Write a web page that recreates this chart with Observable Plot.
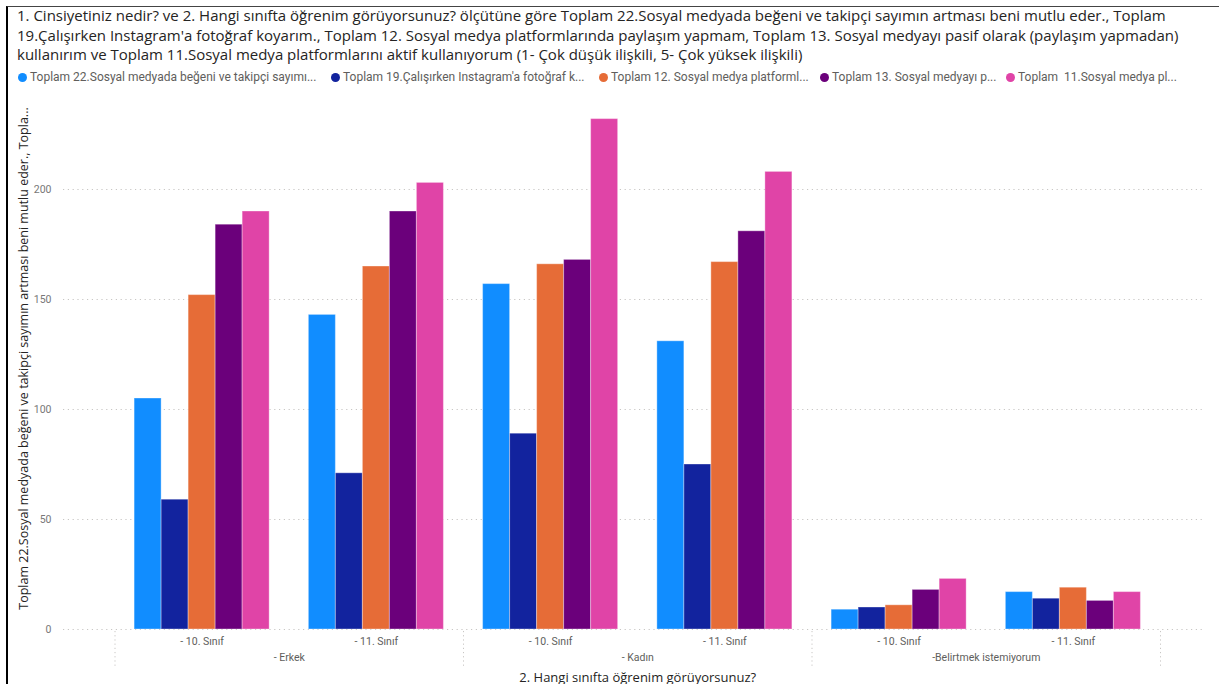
<!DOCTYPE html>
<html><head><meta charset="utf-8">
<script src="https://cdn.jsdelivr.net/npm/d3@7"></script>
<script src="https://cdn.jsdelivr.net/npm/@observablehq/plot@0.6"></script>
<style>
body{margin:0;background:#fff;width:1219px;height:684px;overflow:hidden;position:relative;font-family:"Open Sans",sans-serif}
#frame{position:absolute;left:6px;top:6px;right:-5px;bottom:-5px;border-left:2.5px solid #000;border-top:1.5px solid #444;pointer-events:none}
#title{position:absolute;left:17px;top:6px;font-size:13.5px;line-height:19.6px;color:#252423;white-space:nowrap}
#title div{display:block}
#legend{position:absolute;left:0;top:70px;height:16px;width:1219px;font-size:12px;color:#605E5C;font-family:Roboto,sans-serif}
.item{position:absolute;top:0;white-space:pre;overflow:hidden}
.dot{display:inline-block;width:9px;height:9px;border-radius:50%;margin-right:3px;vertical-align:-1px}
#chart{position:absolute;left:0;top:90px}
</style></head><body>
<div id="frame"></div>
<div id="title"></div>
<div id="legend"></div>
<div id="chart"></div>
<script>
const titleLines = [
  "1. Cinsiyetiniz nedir? ve 2. Hangi sınıfta öğrenim görüyorsunuz? ölçütüne göre Toplam 22.Sosyal medyada beğeni ve takipçi sayımın artması beni mutlu eder., Toplam",
  "19.Çalışırken Instagram'a fotoğraf koyarım., Toplam 12. Sosyal medya platformlarında paylaşım yapmam, Toplam 13. Sosyal medyayı pasif olarak (paylaşım yapmadan)",
  "kullanırım ve Toplam 11.Sosyal medya platformlarını aktif kullanıyorum (1- Çok düşük ilişkili, 5- Çok yüksek ilişkili)"
];
const seriesNames = [
  "Toplam 22.Sosyal medyada beğeni ve takipçi sayımın artması beni mutlu eder.",
  "Toplam 19.Çalışırken Instagram'a fotoğraf koyarım.",
  "Toplam 12. Sosyal medya platformlarında paylaşım yapmam",
  "Toplam 13. Sosyal medyayı pasif olarak (paylaşım yapmadan) kullanırım",
  "Toplam  11.Sosyal medya platformlarını aktif kullanıyorum"
];
const legendLabels = [
  "Toplam 22.Sosyal medyada beğeni ve takipçi sayımı...",
  "Toplam 19.Çalışırken Instagram'a fotoğraf k...",
  "Toplam 12. Sosyal medya platforml...",
  "Toplam 13. Sosyal medyayı p...",
  "Toplam  11.Sosyal medya pl..."
];
const colors = ["#118DFF", "#12239E", "#E66C37", "#6B007B", "#E044A7"];
const classLabels = ["- 10. Sınıf", "- 11. Sınıf", "- 10. Sınıf", "- 11. Sınıf", "- 10. Sınıf", "- 11. Sınıf"];
const genderLabels = ["- Erkek", "- Kadın", "-Belirtmek istemiyorum"];
const toplam22 = [105, 143, 157, 131, 9, 17];
const toplam19 = [59, 71, 89, 75, 10, 14];
const toplam12 = [152, 165, 166, 167, 11, 19];
const toplam13 = [184, 190, 168, 181, 18, 13];
const toplam11 = [190, 203, 232, 208, 23, 17];
const yTicks = [0, 50, 100, 150, 200];
const yTitle = "Toplam 22.Sosyal medyada beğeni ve takipçi sayımın artması beni mutlu eder., Topla...";
const xTitle = "2. Hangi sınıfta öğrenim görüyorsunuz?";

// title
const titleEl = document.getElementById("title");
titleLines.forEach(t => { const d = document.createElement("div"); d.textContent = t; titleEl.appendChild(d); });
{
  const first = titleEl.firstChild;
  const span = document.createElement("span"); span.textContent = titleLines[0];
  first.textContent = ""; first.appendChild(span);
  const w = span.getBoundingClientRect().width;
  const fs = 13.5 * 1164 / w;
  titleEl.style.fontSize = Math.min(15, Math.max(12, fs)) + "px";
}

// legend
const legendEl = document.getElementById("legend");
const legendLeft = [18, 331, 599, 820, 1006];
const legendWidth = [310, 265, 218, 183, 190];
legendLabels.forEach((t, i) => {
  const it = document.createElement("div"); it.className = "item";
  it.style.left = legendLeft[i] + "px"; it.style.width = legendWidth[i] + "px";
  const dot = document.createElement("span"); dot.className = "dot"; dot.style.background = colors[i];
  it.appendChild(dot); it.appendChild(document.createTextNode(t));
  legendEl.appendChild(it);
});

// data table
const seriesValues = [toplam22, toplam19, toplam12, toplam13, toplam11];
const rows = [];
classLabels.forEach((c, ci) => seriesValues.forEach((vals, si) => rows.push({ci, si, series: seriesNames[si], value: vals[ci]})));
const pad = 0.1125, bw = (1 - 2 * pad) / seriesNames.length;
const catCenters = classLabels.map((c, i) => ({x: i + 0.5, label: c}));
const genderCenters = genderLabels.map((g, i) => ({x: i * 2 + 1, label: g}));
const separators = [0, 2, 4, 6];
const labelFont = 'Roboto,sans-serif';

const chart = Plot.plot({
  width: 1219, height: 594,
  marginLeft: 63, marginRight: 16, marginTop: 11, marginBottom: 55,
  x: {domain: [0, 6], range: [114.5, 1160], axis: null},
  y: {domain: [0, 240], axis: null},
  color: {domain: seriesNames, range: colors},
  style: {fontFamily: '"Open Sans",sans-serif', overflow: "visible", background: "transparent"},
  marks: [
    Plot.ruleY(yTicks, {y: d => d, stroke: "#c8c6c4", strokeDasharray: "1.2,3.6", strokeWidth: 1}),
    Plot.text(yTicks, {y: d => d, text: d => String(d), frameAnchor: "left", dx: -12, textAnchor: "end", fill: "#777", fontSize: 10.5, fontFamily: labelFont}),
    Plot.rect(rows, {
      x1: d => d.ci + pad + d.si * bw,
      x2: d => d.ci + pad + (d.si + 1) * bw,
      y1: 0, y2: "value", fill: "series",
      stroke: "white", strokeOpacity: 0.35, strokeWidth: 1
    }),
    Plot.ruleX(separators, {x: d => d, y1: -0.9, y2: -16.8, stroke: "#c8c6c4", strokeDasharray: "1.2,3", strokeWidth: 1}),
    Plot.text(catCenters, {x: "x", text: "label", frameAnchor: "bottom", dy: 12, fill: "#605E5C", fontSize: 10.5, fontFamily: labelFont, lineAnchor: "middle"}),
    Plot.text(genderCenters, {x: "x", text: "label", frameAnchor: "bottom", dy: 28, fill: "#605E5C", fontSize: 10.5, fontFamily: labelFont, lineAnchor: "middle"}),
    Plot.text([xTitle], {x: 3, text: d => d, frameAnchor: "bottom", dy: 48, fill: "#252423", fontSize: 13, lineAnchor: "middle"}),
    Plot.text([yTitle], {text: d => d, frameAnchor: "left", dx: -40, dy: -7, rotate: -90, fill: "#252423", fontSize: 12.5, lineAnchor: "middle", textAnchor: "middle"})
  ]
});
document.getElementById("chart").appendChild(chart);
</script>
</body></html>
